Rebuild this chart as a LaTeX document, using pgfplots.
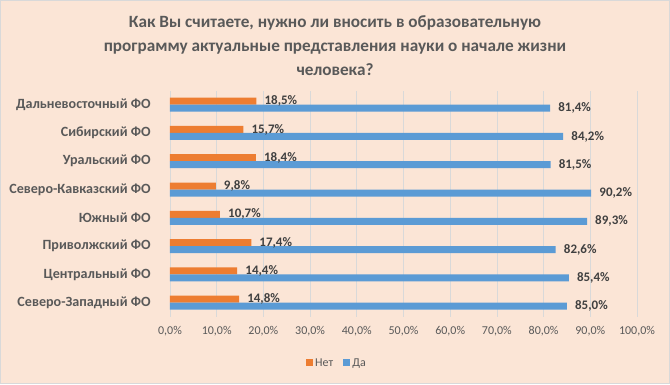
\documentclass[border=0pt]{standalone}
\usepackage{fontspec}
\setmainfont{Carlito}
\usepackage{pgfplots}
\pgfplotsset{compat=1.18}
\definecolor{bgpeach}{HTML}{FBE5D6}
\definecolor{bordergray}{HTML}{D9D9D9}
\definecolor{gridgray}{HTML}{D9D9D9}
\definecolor{titlegray}{HTML}{595959}
\definecolor{labgray}{HTML}{595959}
\definecolor{datagray}{HTML}{404040}
\definecolor{orangeN}{HTML}{ED7D31}
\definecolor{blueD}{HTML}{5B9BD5}
\begin{document}
\begin{tikzpicture}
\fill[bgpeach] (0pt,0pt) rectangle (670pt,384pt);
\draw[bordergray,line width=1pt] (0.5pt,0.5pt) rectangle (669.5pt,383.5pt);
\begin{scope}[every node/.style={anchor=base,text=titlegray,font=\fontsize{17.2}{24}\selectfont\bfseries,inner sep=0pt}]
\node at (335pt,356.3pt) {Как Вы считаете, нужно ли вносить в образовательную};
\node at (335pt,332.3pt) {программу актуальные представления науки о начале жизни};
\node at (335pt,308.3pt) {человека?};
\end{scope}
\begin{axis}[
  at={(170pt,67.2pt)}, anchor=south west,
  scale only axis, width=467pt, height=226.3pt,
  xbar, bar width=7pt,
  xmin=0, xmax=100, ymin=-0.5, ymax=7.5,
  /pgf/number format/assume math mode=true,
  xtick={0,10,...,100},
  xticklabels={{0,0\%},{10,0\%},{20,0\%},{30,0\%},{40,0\%},{50,0\%},{60,0\%},{70,0\%},{80,0\%},{90,0\%},{100,0\%}},
  ytick={0,...,7},
  yticklabels={Северо-Западный ФО, Центральный ФО, Приволжский ФО, Южный ФО, Северо-Кавказский ФО, Уральский ФО, Сибирский ФО, Дальневосточный ФО},
  xmajorgrids, major grid style={gridgray, line width=0.8pt},
  axis line style={draw=none},
  tick style={draw=none},
  xticklabel style={anchor=base, yshift=-18pt, inner sep=0pt, font=\fontsize{12}{14}\selectfont, text=labgray},
  yticklabel style={anchor=east, inner sep=0pt, xshift=-15pt, font=\fontsize{14.1}{16}\selectfont\bfseries, text=labgray},
  point meta=x,
  nodes near coords={\pgfmathprintnumber[fixed,fixed zerofill,precision=1,use comma]{\pgfplotspointmeta}\%},
  every node near coord/.append style={anchor=west, inner sep=0pt, xshift=8pt, font=\fontsize{13}{15}\selectfont\bfseries, text=datagray},
  legend style={at={(0.3576,-0.204)}, anchor=center, draw=none, fill=none, font=\fontsize{12}{14}\selectfont, text=labgray, /tikz/every even column/.append style={column sep=8pt}},
  legend columns=2,
  legend image code/.code={\fill[#1] (0pt,-3.5pt) rectangle (7pt,3.5pt);},
]
\addplot[fill=orangeN, draw=none, bar shift=3.5pt] coordinates {
 (14.8,0) (14.4,1) (17.4,2) (10.7,3) (9.8,4) (18.4,5) (15.7,6) (18.5,7)};
\addlegendentry{Нет}
\addplot[fill=blueD, draw=none, bar shift=-3.5pt] coordinates {
 (85.0,0) (85.4,1) (82.6,2) (89.3,3) (90.2,4) (81.5,5) (84.2,6) (81.4,7)};
\addlegendentry{Да}
\end{axis}
\end{tikzpicture}
\end{document}
